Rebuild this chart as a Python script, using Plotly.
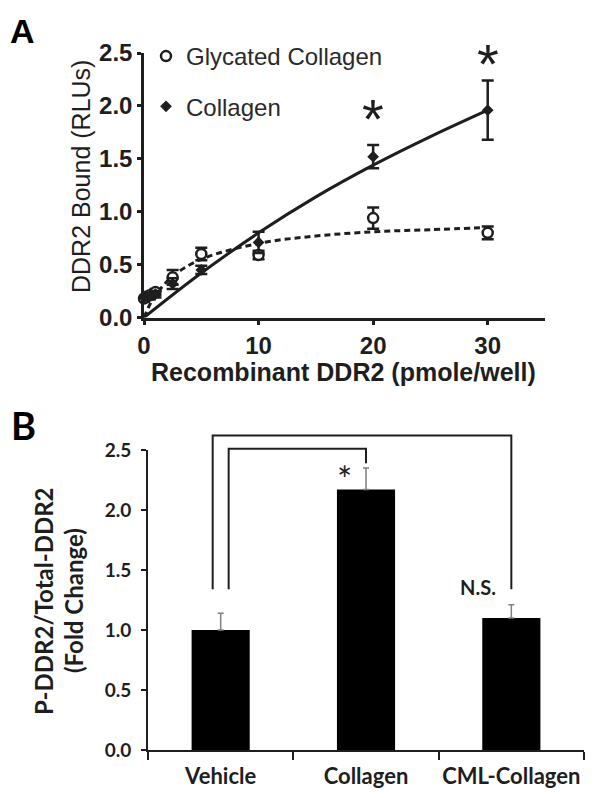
import plotly.graph_objects as go

# ---------------- Panel A data ----------------
conc = [0, 0.5, 1, 2.5, 5, 10, 20, 30]
collagen = [0.19, 0.20, 0.22, 0.32, 0.45, 0.71, 1.52, 1.96]
collagen_err = [0.03, 0.03, 0.03, 0.05, 0.04, 0.10, 0.11, 0.28]
glycated = [0.18, 0.21, 0.24, 0.38, 0.60, 0.59, 0.94, 0.80]
glycated_err = [0.03, 0.03, 0.03, 0.07, 0.06, 0.04, 0.10, 0.06]

fit_x_coll = [0, 5, 10, 15, 20, 25, 30]
fit_y_coll = [0, 0.42, 0.80, 1.14, 1.44, 1.71, 1.96]
fit_x_gly = [0, 0.5, 1, 2.5, 5, 10, 15, 20, 25, 30]
fit_y_gly = [0, 0.12, 0.21, 0.39, 0.55, 0.70, 0.77, 0.81, 0.83, 0.85]

x_ticks_a = [0, 10, 20, 30]
y_ticks_a = [0.0, 0.5, 1.0, 1.5, 2.0, 2.5]
sig_x_a = [20, 30]
sig_y_a = [1.96, 2.48]

# ---------------- Panel B data ----------------
groups = ["Vehicle", "Collagen", "CML-Collagen"]
fold = [1.00, 2.17, 1.10]
fold_err = [0.14, 0.18, 0.11]
y_ticks_b = [0.0, 0.5, 1.0, 1.5, 2.0, 2.5]

W, H = 601, 798
INK = "#1e1e1e"
ARIAL = "Liberation Sans"
CALI = "Lato"

# domains (paper fractions)
xa_dom = [144 / W, 545 / W]
ya_dom = [1 - 317.5 / H, 1 - 53 / H]
xb_dom = [148 / W, 584 / W]
yb_dom = [1 - 750 / H, 1 - 450 / H]

fig = go.Figure()

# fit curves
fig.add_trace(go.Scatter(x=fit_x_coll, y=fit_y_coll, mode="lines", line=dict(color=INK, width=3, shape="spline"),
                         showlegend=False, xaxis="x", yaxis="y", hoverinfo="skip"))
fig.add_trace(go.Scatter(x=fit_x_gly, y=fit_y_gly, mode="lines",
                         line=dict(color=INK, width=3, shape="spline", dash="6px,4px"),
                         showlegend=False, xaxis="x", yaxis="y", hoverinfo="skip"))
# data points
fig.add_trace(go.Scatter(x=conc, y=glycated, mode="markers", name="Glycated Collagen",
                         legendgroup="g1",
                         marker=dict(symbol="circle", size=10, color="white", line=dict(color=INK, width=2.5)),
                         error_y=dict(type="data", array=glycated_err, thickness=2.5, width=6, color=INK),
                         cliponaxis=False, xaxis="x", yaxis="y"))
fig.add_trace(go.Scatter(x=conc, y=collagen, mode="markers", name="Collagen",
                         legendgroup="g2",
                         marker=dict(symbol="diamond", size=9, color=INK),
                         error_y=dict(type="data", array=collagen_err, thickness=2.5, width=6, color=INK),
                         cliponaxis=False, xaxis="x", yaxis="y"))

# Panel B bars
fig.add_trace(go.Bar(x=groups, y=fold, width=0.4, marker=dict(color="black", line=dict(width=0)),
                     error_y=dict(type="data", symmetric=False, array=fold_err, arrayminus=[0] * len(fold),
                                  thickness=1.5, width=3, color="#808080"),
                     showlegend=False, xaxis="x2", yaxis="y2"))

axis_common = dict(showgrid=False, zeroline=False, showline=True, linecolor=INK, ticks="outside",
                   tickcolor=INK, automargin=False, tickangle=0)

fig.update_layout(
    width=W, height=H, margin=dict(l=0, r=0, t=0, b=0, autoexpand=False),
    paper_bgcolor="white", plot_bgcolor="white",
    xaxis=dict(domain=xa_dom, anchor="y", range=[0, 35], tickvals=x_ticks_a, linewidth=2.5,
               tickwidth=2.5, ticklen=5, tickfont=dict(family=ARIAL, size=24, color=INK, weight="bold"),
               **axis_common),
    yaxis=dict(domain=ya_dom, anchor="x", range=[0, 2.5], tickvals=y_ticks_a, tickformat=".1f", linewidth=2.5,
               tickwidth=2.5, ticklen=4, tickfont=dict(family=ARIAL, size=24, color=INK, weight="bold"),
               **axis_common),
    xaxis2=dict(domain=xb_dom, anchor="y2", type="category", range=[-0.5, 2.5], tickson="boundaries",
                linewidth=2, tickwidth=2, ticklen=8, ticklabelstandoff=6,
                tickfont=dict(family=CALI, size=22, color=INK, weight="bold"), **axis_common),
    yaxis2=dict(domain=yb_dom, anchor="x2", range=[0, 2.5], tickvals=y_ticks_b, tickformat=".1f",
                linewidth=2, tickwidth=2, ticklen=5, ticklabelstandoff=6,
                tickfont=dict(family=CALI, size=19, color=INK, weight="bold"), **axis_common),
    legend=dict(x=146 / W, y=1 - 34 / H, xanchor="left", yanchor="top", traceorder="grouped",
                tracegroupgap=16, bgcolor="rgba(0,0,0,0)",
                font=dict(family=ARIAL, size=24, color="#2a2a2a")),
    showlegend=True,
)

C = dict(xanchor="center", yanchor="middle", showarrow=False)
ann = []
# panel letters
ann.append(dict(text="<b>A</b>", x=22 / W, y=1 - 31 / H, xref="paper", yref="paper",
                font=dict(family=ARIAL, size=34, color="black"), **C))
ann.append(dict(text="<b>B</b>", x=23 / W, y=1 - 425 / H, xref="paper", yref="paper",
                font=dict(family=CALI, size=38, color="black"), **C))
# panel A titles
ann.append(dict(text="DDR2 Bound (RLUs)", x=81 / W, y=1 - 177 / H, xref="paper", yref="paper",
                textangle=-90, font=dict(family=ARIAL, size=25, color=INK), **C))
ann.append(dict(text="<b>Recombinant DDR2 (pmole/well)</b>", x=343 / W, y=1 - 372 / H, xref="paper",
                yref="paper", font=dict(family=ARIAL, size=25, color=INK), **C))
# panel A significance
for sx, sy in zip(sig_x_a, sig_y_a):
    ann.append(dict(text="*", x=sx, y=sy, xref="x", yref="y", yshift=-8,
                    font=dict(family=ARIAL, size=56, color=INK), **C))
# panel B titles
ann.append(dict(text="<b>P-DDR2/Total-DDR2</b>", x=43 / W, y=1 - 601 / H, xref="paper", yref="paper",
                textangle=-90, font=dict(family=CALI, size=24, color=INK), **C))
ann.append(dict(text="<b>(Fold Change)</b>", x=73 / W, y=1 - 601 / H, xref="paper", yref="paper",
                textangle=-90, font=dict(family=CALI, size=24, color=INK), **C))
# panel B significance labels
ann.append(dict(text="*", x=0.85, y=2.31, xref="x2", yref="y2", yshift=-6,
                font=dict(family=CALI, size=36, color=INK), **C))
ann.append(dict(text="<b>N.S.</b>", x=1.77, y=1.36, xref="x2", yref="y2",
                font=dict(family=CALI, size=20, color=INK), **C))
fig.update_layout(annotations=ann)


# brackets (paper coordinates derived from panel B axis geometry)
def bx(i):
    return xb_dom[0] + (i + 0.5) / 3 * (xb_dom[1] - xb_dom[0])


def by(v):
    return yb_dom[0] + v / 2.5 * (yb_dom[1] - yb_dom[0])


low = 1.34
outer_top = 2.62
inner_top = 2.51
inner_end = fold[1] + fold_err[1] + 0.04
outer = f"M {bx(-0.055)} {by(low)} L {bx(-0.055)} {by(outer_top)} L {bx(2.0)} {by(outer_top)} L {bx(2.0)} {by(low)}"
inner = f"M {bx(0.055)} {by(low)} L {bx(0.055)} {by(inner_top)} L {bx(1.0)} {by(inner_top)} L {bx(1.0)} {by(inner_end)}"
fig.update_layout(shapes=[
    dict(type="path", path=outer, xref="paper", yref="paper", line=dict(color=INK, width=2)),
    dict(type="path", path=inner, xref="paper", yref="paper", line=dict(color=INK, width=2)),
])

fig.write_html("out.html", config={"displayModeBar": False},
               post_script="document.body.style.margin='0';document.body.style.overflow='hidden';")
